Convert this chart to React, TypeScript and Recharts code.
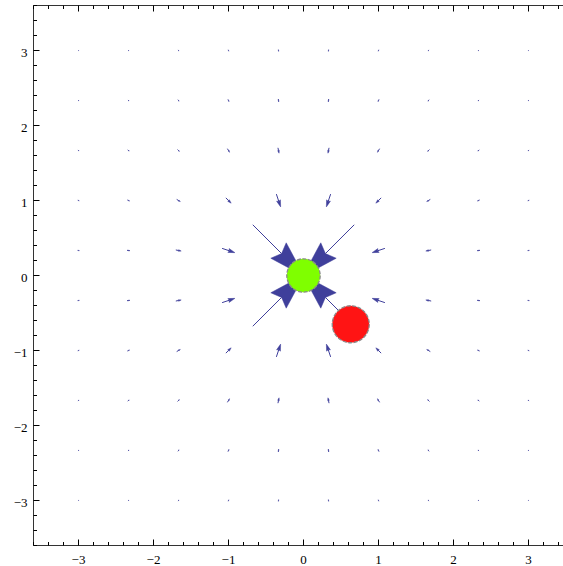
import { ScatterChart, Scatter, XAxis, YAxis, ReferenceLine } from 'recharts';

// sample grid of the vector field (both axes)
const GRID = [-3, -7 / 3, -5 / 3, -1, -1 / 3, 1 / 3, 1, 5 / 3, 7 / 3, 3];
// distance of a grid line from the centre, used to index ARROW_LEN
const RINGS = [1 / 3, 1, 5 / 3, 7 / 3, 3];
// arrow length in data units, row = |y| ring, col = |x| ring
const ARROW_LEN = [
  [0.97, 0.18, 0.073, 0.04, 0.024],
  [0.18, 0.1, 0.056, 0.033, 0.021],
  [0.073, 0.056, 0.035, 0.026, 0.018],
  [0.04, 0.033, 0.026, 0.02, 0.015],
  [0.024, 0.021, 0.018, 0.015, 0.012],
];

const GREEN_DISC = [{ x: 0, y: 0 }];
const RED_DISC = [{ x: 0.63, y: -0.65 }];

const AXIS_TICKS = [
  -3.6, -3.4, -3.2, -3, -2.8, -2.6, -2.4, -2.2, -2, -1.8, -1.6, -1.4, -1.2, -1, -0.8, -0.6, -0.4, -0.2, 0,
  0.2, 0.4, 0.6, 0.8, 1, 1.2, 1.4, 1.6, 1.8, 2, 2.2, 2.4, 2.6, 2.8, 3, 3.2, 3.4, 3.6,
];
const MAJOR_TICKS = [-3, -2, -1, 0, 1, 2, 3];

const ARROW_COLOR = '#3f3f9b';
const FONT = { fontFamily: '"Liberation Serif", "DejaVu Serif", serif', fontSize: 13, fill: '#000' };

const ringIdx = (v: number) => RINGS.findIndex((r) => Math.abs(Math.abs(v) - r) < 1e-6);

// arrows are centred on their grid point and point to the centre
const arrows = GRID.flatMap((gx) =>
  GRID.map((gy) => {
    const len = ARROW_LEN[ringIdx(gy)][ringIdx(gx)];
    const r = Math.hypot(gx, gy);
    const ux = -gx / r;
    const uy = -gy / r;
    return {
      id: `${gx.toFixed(2)}_${gy.toFixed(2)}`,
      tail: { x: gx - (ux * len) / 2, y: gy - (uy * len) / 2 },
      tip: { x: gx + (ux * len) / 2, y: gy + (uy * len) / 2 },
    };
  })
);

const isMajor = (v: number) => MAJOR_TICKS.some((m) => Math.abs(m - v) < 1e-6);
const fmt = (v: number) => (Math.round(v) < 0 ? `\u2212${Math.abs(Math.round(v))}` : `${Math.round(v)}`);

function ArrowShape(props: any) {
  const { x1, y1, x2, y2 } = props;
  const dx = x2 - x1;
  const dy = y2 - y1;
  const L = Math.hypot(dx, dy);
  if (!L) return <g />;
  const ux = dx / L;
  const uy = dy / L;
  const h = 0.5 * L;
  const w = 0.6 * h;
  const bx = x2 - ux * h;
  const by = y2 - uy * h;
  const nx = x2 - ux * h * 0.88;
  const ny = y2 - uy * h * 0.88;
  const pts = [
    [x2, y2],
    [bx - uy * (w / 2), by + ux * (w / 2)],
    [nx, ny],
    [bx + uy * (w / 2), by - ux * (w / 2)],
  ]
    .map((p) => p.join(','))
    .join(' ');
  return (
    <g>
      <line x1={x1} y1={y1} x2={nx} y2={ny} stroke={ARROW_COLOR} strokeWidth={1} />
      <polygon points={pts} fill={ARROW_COLOR} stroke={ARROW_COLOR} strokeWidth={0.5} />
    </g>
  );
}

function BottomTick({ x, y, payload }: any) {
  const major = isMajor(payload.value);
  return (
    <g>
      <line x1={x} x2={x} y1={y} y2={y - (major ? 6 : 3.5)} stroke="#000" />
      {major && (
        <text x={x} y={y + 18.5} textAnchor="middle" {...FONT}>
          {fmt(payload.value)}
        </text>
      )}
    </g>
  );
}

function TopTick({ x, y, payload }: any) {
  const major = isMajor(payload.value);
  return <line x1={x} x2={x} y1={y} y2={y + (major ? 6 : 3.5)} stroke="#000" />;
}

function LeftTick({ x, y, payload }: any) {
  const major = isMajor(payload.value);
  const ax = x + 6;
  return (
    <g>
      <line x1={ax} x2={ax + (major ? 6 : 3.5)} y1={y} y2={y} stroke="#000" />
      {major && (
        <text x={x} y={y + 6.8} textAnchor="end" {...FONT}>
          {fmt(payload.value)}
        </text>
      )}
    </g>
  );
}

const GreenDisc = (p: any) => (
  <circle cx={p.cx} cy={p.cy} r={16.7} fill="#7fff00" stroke="#8a8a8a" strokeWidth={1.3} strokeDasharray="4 1.5" />
);
const RedDisc = (p: any) => (
  <circle cx={p.cx} cy={p.cy} r={18.5} fill="#ff1414" stroke="#8a8a8a" strokeWidth={1.3} strokeDasharray="4 1.5" />
);

export default function App() {
  return (
    <div style={{ position: 'fixed', left: 0, top: 0, width: 563, height: 566, overflow: 'hidden', background: '#fff' }}>
      <ScatterChart width={600} height={566} margin={{ top: 4.5, right: 26.5, bottom: 0.5, left: 3.5 }}>
        <XAxis
          type="number"
          dataKey="x"
          domain={[-3.6, 3.6]}
          allowDataOverflow
          ticks={AXIS_TICKS}
          interval={0}
          height={20}
          tickSize={0}
          tickMargin={0}
          tick={<BottomTick />}
          axisLine={{ stroke: '#333' }}
        />
        <XAxis
          xAxisId="top"
          orientation="top"
          type="number"
          dataKey="x"
          domain={[-3.6, 3.6]}
          allowDataOverflow
          ticks={AXIS_TICKS}
          interval={0}
          height={1}
          tickSize={0}
          tickMargin={0}
          tick={<TopTick />}
          axisLine={{ stroke: '#333' }}
        />
        <YAxis
          type="number"
          dataKey="y"
          domain={[-3.6, 3.6]}
          allowDataOverflow
          ticks={AXIS_TICKS}
          interval={0}
          width={30}
          tickSize={0}
          tickMargin={6}
          tick={<LeftTick />}
          axisLine={{ stroke: '#333' }}
        />
        {arrows.map((a) => (
          <ReferenceLine key={a.id} segment={[a.tail, a.tip]} stroke={ARROW_COLOR} shape={ArrowShape} />
        ))}
        <Scatter data={GREEN_DISC} shape={GreenDisc} isAnimationActive={false} />
        <Scatter data={RED_DISC} shape={RedDisc} isAnimationActive={false} />
      </ScatterChart>
    </div>
  );
}
